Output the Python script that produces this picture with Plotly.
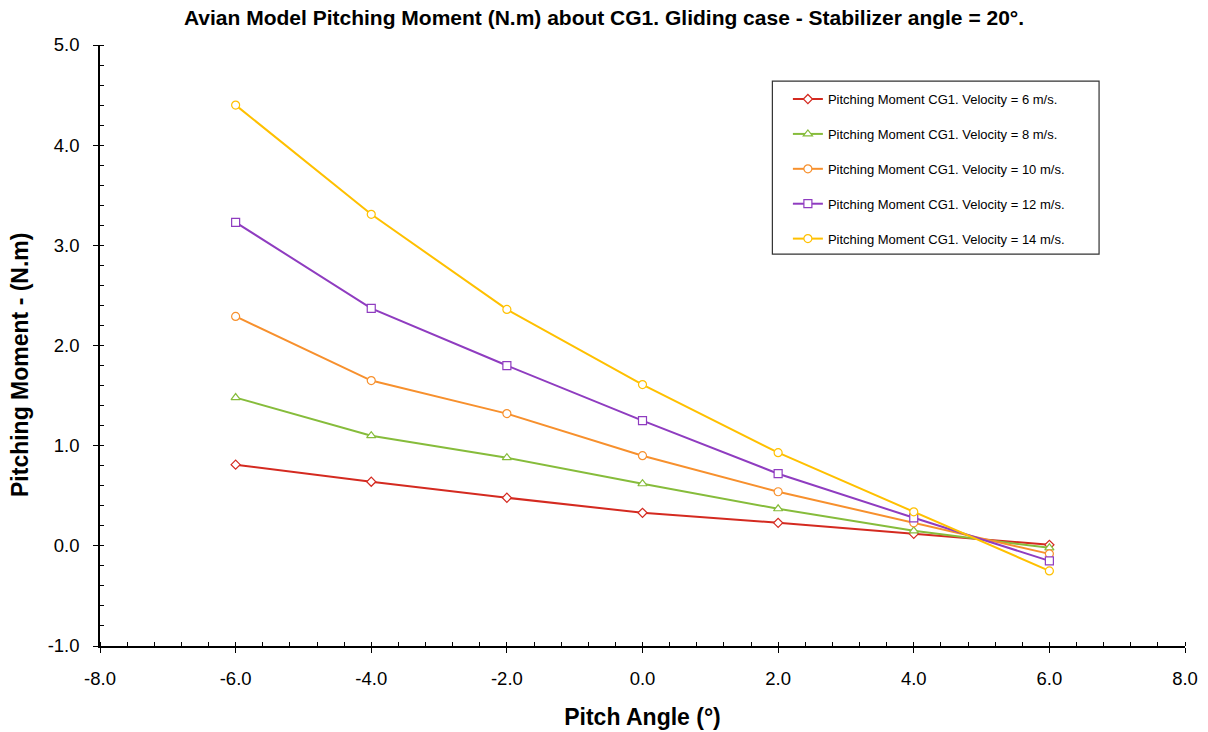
import plotly.graph_objects as go

pitch_angle = [-6.0, -4.0, -2.0, 0.0, 2.0, 4.0, 6.0]
moment_v6 = [0.81, 0.64, 0.48, 0.33, 0.23, 0.12, 0.01]
moment_v8 = [1.48, 1.10, 0.88, 0.62, 0.37, 0.15, -0.02]
moment_v10 = [2.29, 1.65, 1.32, 0.90, 0.54, 0.23, -0.08]
moment_v12 = [3.23, 2.37, 1.80, 1.25, 0.72, 0.28, -0.15]
moment_v14 = [4.40, 3.31, 2.36, 1.61, 0.93, 0.34, -0.25]

series_names = [
    "Pitching Moment CG1. Velocity = 6 m/s.",
    "Pitching Moment CG1. Velocity = 8 m/s.",
    "Pitching Moment CG1. Velocity = 10 m/s.",
    "Pitching Moment CG1. Velocity = 12 m/s.",
    "Pitching Moment CG1. Velocity = 14 m/s.",
]
series_values = [moment_v6, moment_v8, moment_v10, moment_v12, moment_v14]
colors = ["#d42a20", "#86bc3b", "#f7902d", "#8f3cc0", "#ffc000"]
symbols = ["diamond", "triangle-up", "circle", "square", "circle"]
sizes = [7, 8, 8, 8, 8]

x_tickvals = [-8, -6, -4, -2, 0, 2, 4, 6, 8]
x_ticktext = ["-8.0", "-6.0", "-4.0", "-2.0", "0.0", "2.0", "4.0", "6.0", "8.0"]
y_tickvals = [-1, 0, 1, 2, 3, 4, 5]
y_ticktext = ["-1.0", "0.0", "1.0", "2.0", "3.0", "4.0", "5.0"]

fig = go.Figure()
for name, vals, c, s, sz in zip(series_names, series_values, colors, symbols, sizes):
    fig.add_trace(go.Scatter(
        x=pitch_angle, y=vals, name=name, mode="lines+markers",
        legendgroup=name,
        line=dict(color=c, width=2),
        marker=dict(symbol=s, size=sz, color="white",
                    line=dict(color=c, width=1.2)),
    ))

FONT = "Liberation Sans, Arial"
axis_common = dict(
    showline=True, linecolor="black", linewidth=1.5, mirror=False,
    showgrid=False, zeroline=False,
    ticks="outside", ticklen=5, tickwidth=1.2, tickcolor="black",
    tickfont=dict(family=FONT, size=18.5, color="black"),
    ticklabelstandoff=10, automargin=False,
)

fig.update_layout(
    width=1208, height=732,
    paper_bgcolor="white", plot_bgcolor="white",
    margin=dict(l=100, r=23, t=45, b=86),
    title=dict(text="<b>Avian Model Pitching Moment (N.m) about CG1. Gliding case - Stabilizer angle = 20°.</b>",
               x=0.5, xanchor="center", y=1 - 18 / 732, yanchor="middle",
               font=dict(family=FONT, size=21, color="black")),
    xaxis=dict(axis_common, range=[-8, 8], tickmode="array",
               tickvals=x_tickvals, ticktext=x_ticktext,
               minor=dict(dtick=0.4, ticks="inside", ticklen=4, tickcolor="black", tickwidth=1),
               title=dict(text="<b>Pitch Angle (°)</b>", standoff=21,
                          font=dict(family=FONT, size=23, color="black"))),
    yaxis=dict(axis_common, range=[-1, 5], tickmode="array",
               tickvals=y_tickvals, ticktext=y_ticktext,
               minor=dict(dtick=0.2, ticks="inside", ticklen=4, tickcolor="black", tickwidth=1)),
    annotations=[dict(text="<b>Pitching Moment - (N.m)</b>", textangle=-90,
                      xref="paper", yref="paper", x=(20 - 100) / 1085, y=(646 - 365) / 601,
                      xanchor="center", yanchor="middle", showarrow=False,
                      font=dict(family=FONT, size=23, color="black"))],
    legend=dict(x=0.634, y=0.935, xanchor="left", yanchor="top",
                bgcolor="rgba(0,0,0,0)", borderwidth=0,
                font=dict(family=FONT, size=13, color="black"),
                tracegroupgap=15, itemwidth=30),
    shapes=[dict(type="rect", xref="paper", yref="paper",
                 x0=0.6197, x1=0.9208, y0=0.652, y1=0.940,
                 line=dict(color="#333333", width=1.2), fillcolor="rgba(0,0,0,0)")],
)

fig.write_html("out.html")
